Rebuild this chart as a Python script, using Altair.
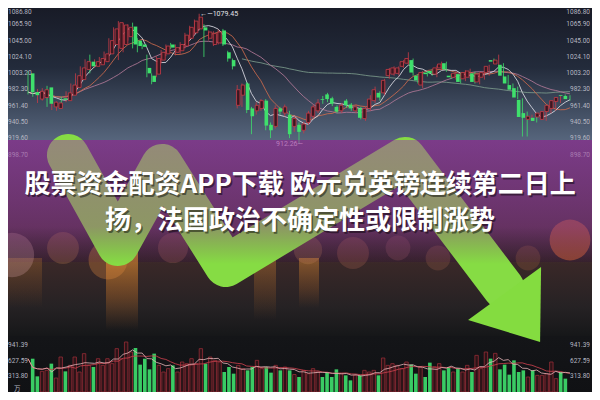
import altair as alt
import pandas as pd

# ---------------- data ----------------
opens = [1003, 979, 970, 972, 985, 960, 958, 971, 968, 975,
         985, 995, 1008, 1018, 1012, 1014, 1018, 1028, 1040, 1035,
         1040, 1050, 1063, 1045, 1040, 1010, 1000, 1002, 1020, 1028,
         1040, 1030, 1032, 1038, 1048, 1055, 1060, 1062, 1048, 1040,
         1042, 1058, 1030, 1020, 962, 975, 990, 958, 955, 958,
         968, 937, 935, 958, 952, 950, 935, 937, 930, 940,
         948, 955, 970, 976, 971, 960, 955, 968, 963, 955,
         958, 945, 958, 968, 978, 978, 1000, 1002, 1003, 1012,
         1016, 1020, 1000, 988, 1004, 1006, 1002, 1010, 1016, 1000,
         998, 1002, 996, 998, 1003, 992, 998, 1004, 1020, 1015,
         1014, 999, 988, 984, 969, 952, 944, 946, 947, 944,
         954, 958, 967, 975, 974]
closes = [979, 975, 980, 982, 964, 966, 965, 969, 978, 988,
          1000, 1010, 1018, 1012, 1018, 1022, 1028, 1045, 1060, 1068,
          1065, 1062, 1040, 1038, 1037, 1003, 992, 1022, 1030, 1038,
          1036, 1036, 1040, 1052, 1062, 1070, 1075, 1058, 1056, 1054,
          1056, 1040, 1022, 1012, 982, 988, 956, 948, 962, 968,
          936, 930, 958, 954, 960, 925, 945, 928, 938, 952,
          960, 965, 969, 970, 964, 954, 962, 962, 958, 960,
          946, 958, 970, 982, 972, 994, 1008, 1010, 1010, 1018,
          1022, 1004, 994, 1004, 1002, 1003, 1010, 1015, 1008, 998,
          1003, 992, 1004, 1006, 992, 1002, 1004, 1012, 1018, 1020,
          1000, 990, 982, 972, 947, 946, 948, 942, 952, 954,
          962, 968, 972, 974, 970]
highs = [1006, 981, 983, 984, 987, 969, 967, 973, 980, 990,
         1003, 1012, 1021, 1027, 1021, 1024, 1031, 1048, 1062, 1070,
         1068, 1066, 1068, 1048, 1042, 1027, 1003, 1025, 1033, 1040,
         1042, 1040, 1043, 1055, 1064, 1072, 1079.45, 1066, 1058, 1057,
         1059, 1060, 1032, 1022, 988, 990, 992, 960, 966, 970,
         970, 940, 962, 960, 963, 955, 948, 940, 941, 955,
         963, 970, 974, 978, 973, 962, 965, 970, 965, 963,
         960, 960, 975, 986, 980, 996, 1010, 1012, 1012, 1020,
         1030, 1022, 1002, 1006, 1006, 1008, 1013, 1018, 1018, 1002,
         1006, 1004, 1007, 1009, 1005, 1004, 1006, 1014, 1022, 1027,
         1016, 1001, 990, 986, 971, 954, 950, 948, 954, 956,
         964, 970, 974, 976, 975]
lows = [976, 973, 965, 968, 960, 956, 955, 962, 966, 973,
        983, 993, 1006, 1003, 1010, 1012, 1016, 1025, 1036, 1020,
        1030, 1045, 1035, 1030, 1034, 998, 989, 998, 1016, 1025,
        1034, 1026, 1028, 1035, 1045, 1052, 1058, 1024, 1045, 1038,
        1040, 1038, 1018, 1008, 958, 960, 952, 925, 950, 955,
        930, 920, 932, 950, 948, 920, 928, 912.26, 926, 937,
        945, 952, 964, 966, 961, 952, 952, 959, 955, 952,
        944, 942, 955, 965, 968, 975, 996, 1000, 1000, 1010,
        1014, 1000, 990, 984, 999, 1000, 998, 1007, 1005, 996,
        995, 990, 993, 996, 990, 989, 995, 1000, 1016, 1012,
        998, 988, 980, 970, 922, 922, 942, 940, 944, 942,
        952, 955, 965, 972, 968]
volumes = [666, 313, 413, 433, 567, 280, 700, 413, 533, 700,
           400, 767, 533, 500, 666, 533, 666, 567, 867, 666,
           1000, 800, 880, 547, 666, 453, 767, 533,
           400, 467, 533, 400, 600, 567, 667, 567, 867, 567,
           700, 633, 600, 400, 500, 367, 533, 467, 433, 500,
           633, 467, 500, 387, 533, 433, 500, 433, 350, 300,
           433, 367, 467, 400, 300, 400, 300, 453, 367, 333,
           233, 333, 333, 433, 400, 433, 333, 680, 533, 567,
           533, 467, 600, 547, 367, 500, 300, 587,
           500, 567, 433, 500, 400, 467, 400, 533, 400, 733,
           467, 800, 667, 773, 453, 547, 347, 633, 400, 433,
           300, 433, 333, 333, 367, 600, 267, 400, 267]

price_ticks = [1086.80, 1065.90, 1045.00, 1024.10, 1003.20, 982.30, 961.40, 940.50, 919.60, 898.70]
vol_ticks = [941.39, 627.59, 313.80]
vol_unit = "万"

title_line1 = "股票资金配资APP下载 欧元兑英镑连续第二日上"
title_line2 = "扬，法国政治不确定性或限制涨势"

# zig-zag arrow of the illustration, in (candle index, price) units
arrow_idx = [8.4, 18.9, 28.2, 41.6, 79.3, 100.0]
arrow_price = [898.3, 782.9, 885.5, 756.0, 894.5, 727.8]
arrowhead_idx = [101.4]
arrowhead_price = [712.4]

# decorative bokeh lights of the background photo (pixel units)
bokeh_x = [4, 55, 100, 165, 240, 300, 345, 390, 430, 520, 562]
bokeh_y = [247, 240, 252, 240, 245, 242, 245, 240, 250, 250, 232]
bokeh_d = [50, 36, 44, 34, 38, 32, 36, 28, 28, 28, 46]
bokeh_c = ["#d8a0a8", "#e0905a", "#e89040", "#d07a70", "#e08a50", "#d89060",
           "#d87a60", "#c87080", "#d08060", "#d08050", "#ee6a3a"]
bokeh_o = [0.28, 0.22, 0.3, 0.2, 0.24, 0.2, 0.2, 0.18, 0.18, 0.18, 0.45]
glow_x0 = [98, 246, 291, 0]
glow_x1 = [130, 268, 311, 34]
glow_y0 = [242, 250, 250, 250]
glow_y1 = [322, 312, 300, 300]
glow_o = [0.7, 0.35, 0.45, 0.25]

# ---------------- tables ----------------
n = len(opens)
df = pd.DataFrame({"idx": list(range(n)), "open": opens, "close": closes,
                   "high": highs, "low": lows, "vol": volumes})
df["dir"] = ["up" if c >= o else "down" for o, c in zip(opens, closes)]
df["top"] = df[["open", "close"]].max(axis=1)
df["bot"] = df[["open", "close"]].min(axis=1)
up = df[df.dir == "up"]
down = df[df.dir == "down"]

W, H = 584, 384
XS = alt.Scale(domain=[-4.21, 118.63], nice=False, zero=False)
PS = alt.Scale(domain=[594.4, 1086.8], nice=False, zero=False)
VS = alt.Scale(domain=[0, 7680], nice=False, zero=False)


def X(f="idx"):
    return alt.X(f"{f}:Q", scale=XS, axis=None)


def PY(f):
    return alt.Y(f"{f}:Q", scale=PS, axis=None)


def VY(f):
    return alt.Y(f"{f}:Q", scale=VS, axis=None)


one = pd.DataFrame({"a": [0]})


def grad(stops):
    return alt.Gradient(gradient="linear", x1=0, x2=0, y1=0, y2=1,
                        stops=[alt.GradientStop(color=c, offset=o) for o, c in stops])


def band(y0, y1, stops):
    return alt.Chart(one).mark_rect(color=grad(stops)).encode(
        x=alt.value(0), x2=alt.value(W), y=alt.value(y0), y2=alt.value(y1))


bg_top = band(0, 132, [(0, "#181b27"), (0.45, "#232b3b"), (1, "#56657c")])
bg_mid = band(132, 254, [(0, "#4e2e66"), (0.5, "#44284e"), (1, "#35202c")])
bg_low = band(254, 328, [(0, "#3a2828"), (0.6, "#262224"), (1, "#161719")])
bg_bot = band(328, 384, [(0, "#141518"), (1, "#101114")])

glow_df = pd.DataFrame({"x0": glow_x0, "x1": glow_x1, "y0": glow_y0, "y1": glow_y1, "o": glow_o})
glows = alt.Chart(glow_df).mark_rect(
    clip=True,
    color=grad([(0, "rgba(236,150,50,0.95)"), (0.6, "rgba(210,120,40,0.45)"), (1, "rgba(200,110,40,0)")])
).encode(x=alt.X("x0:Q", scale=None), x2="x1:Q", y=alt.Y("y0:Q", scale=None), y2="y1:Q",
         opacity=alt.Opacity("o:Q", scale=None, legend=None))

bokeh_df = pd.DataFrame({"x": bokeh_x, "y": bokeh_y,
                         "s": [0.785 * d * d for d in bokeh_d], "c": bokeh_c, "o": bokeh_o})
bokeh = alt.Chart(bokeh_df).mark_circle(clip=True).encode(
    x=alt.X("x:Q", scale=None), y=alt.Y("y:Q", scale=None),
    size=alt.Size("s:Q", scale=None, legend=None),
    color=alt.Color("c:N", scale=None, legend=None),
    opacity=alt.Opacity("o:Q", scale=None, legend=None))

arrow_df = pd.DataFrame({"o": list(range(len(arrow_idx))), "ai": arrow_idx, "ap": arrow_price})
arrow = alt.Chart(arrow_df).mark_line(color="#86dc44", strokeWidth=42, strokeCap="round",
                                      strokeJoin="round").encode(
    x=X("ai"), y=PY("ap"), order="o:Q")
head_df = pd.DataFrame({"hi": arrowhead_idx, "hp": arrowhead_price})
head = alt.Chart(head_df).mark_point(shape="M0.6,0.84L0.62,-0.66L-0.84,0.4Z", filled=True,
                                     size=10000, color="#84dc40", opacity=1).encode(
    x=X("hi"), y=PY("hp"))

# moving averages
mab = alt.Chart(df).transform_window(
    ma5="mean(close)", frame=[-4, 0], sort=[alt.SortField("idx")]
).transform_window(
    ma10="mean(close)", frame=[-9, 0], sort=[alt.SortField("idx")]
).transform_window(
    ma20="mean(close)", frame=[-19, 0], sort=[alt.SortField("idx")]
).transform_window(
    ma60="mean(close)", frame=[-59, 0], sort=[alt.SortField("idx")]
)
ma60 = mab.transform_filter("datum.idx >= 45").mark_line(color="#7fa08e", strokeWidth=1, opacity=0.8).encode(x=X(), y=PY("ma60"))
ma20 = mab.mark_line(color="#b07896", strokeWidth=1, opacity=0.85).encode(x=X(), y=PY("ma20"))
ma10 = mab.mark_line(color="#cc6a4c", strokeWidth=1, opacity=0.85).encode(x=X(), y=PY("ma10"))
ma5 = mab.mark_line(color="#dcdce4", strokeWidth=1, opacity=0.85).encode(x=X(), y=PY("ma5"))

RED = "#c83c48"
GREEN = "#3fe06c"
wick_up = alt.Chart(up).mark_rule(color=RED, strokeWidth=0.8).encode(x=X(), y=PY("low"), y2="high:Q")
wick_dn = alt.Chart(down).mark_rule(color=GREEN, strokeWidth=0.8).encode(x=X(), y=PY("low"), y2="high:Q")
body_up = alt.Chart(up).mark_bar(size=3.4, fill="#3a1822", stroke=RED, strokeWidth=0.8).encode(
    x=X(), y=PY("top"), y2="bot:Q")
body_dn = alt.Chart(down).mark_bar(size=3.6, color=GREEN).encode(x=X(), y=PY("top"), y2="bot:Q")

pl_df = pd.DataFrame({"p": price_ticks, "lab": [f"{v:.2f}" for v in price_ticks]})
pl_top = pl_df.iloc[:1]
pl_rest = pl_df.iloc[1:]


def plabels(d, align, xv, baseline, dy):
    return alt.Chart(d).mark_text(align=align, baseline=baseline, dy=dy, fontSize=6.5, font="Roboto",
                                  color="#b4b6c0").encode(x=alt.value(xv), y=PY("p"), text="lab:N")


plab = [plabels(pl_rest, "left", 0, "middle", 0), plabels(pl_rest, "right", W - 2, "middle", 0),
        plabels(pl_top, "left", 0, "top", 1), plabels(pl_top, "right", W - 2, "top", 1)]

hi_i = int(df.high.idxmax())
lo_i = int(df.low.idxmin())
hi_df = pd.DataFrame({"idx": [hi_i], "p": [df.high[hi_i]], "lab": [f"←—{df.high[hi_i]:.2f}"]})
lo_df = pd.DataFrame({"idx": [lo_i], "p": [df.low[lo_i]], "lab": [f"{df.low[lo_i]:.2f}—"]})
hi_lab = alt.Chart(hi_df).mark_text(align="left", baseline="middle", dx=1, fontSize=7, font="Roboto",
                                    color="#e4e4ea").encode(x=X(), y=PY("p"), text="lab:N")
lo_lab = alt.Chart(lo_df).mark_text(align="right", baseline="middle", dx=4, fontSize=7, font="Roboto",
                                    color="#d8b8d8").encode(x=X(), y=PY("p"), text="lab:N")

overlay = band(132, 256, [(0, "rgba(160,70,165,0.55)"), (0.7, "rgba(150,66,140,0.45)"),
                          (1, "rgba(130,60,110,0)")])

# volume
vb = alt.Chart(df).transform_window(
    v5="mean(vol)", frame=[-4, 0], sort=[alt.SortField("idx")]
).transform_window(
    v10="mean(vol)", frame=[-9, 0], sort=[alt.SortField("idx")]
)
vol_up = alt.Chart(up).mark_bar(size=3.4, fill="#2c1418", stroke="#962c36", strokeWidth=0.8).encode(
    x=X(), y=VY("vol"), y2=alt.Y2(datum=0))
vol_dn = alt.Chart(down).mark_bar(size=3.6, color="#3acb64").encode(
    x=X(), y=VY("vol"), y2=alt.Y2(datum=0))
vma10 = vb.mark_line(color="#c8404c", strokeWidth=1, opacity=0.85).encode(x=X(), y=VY("v10"))
vma5 = vb.mark_line(color="#e6b4b8", strokeWidth=1, opacity=0.8).encode(x=X(), y=VY("v5"))

vl_df = pd.DataFrame({"v": vol_ticks, "lab": [f"{v:.2f}" for v in vol_ticks]})
vlab_l = alt.Chart(vl_df).mark_text(align="left", baseline="middle", fontSize=6.5, font="Roboto",
                                   color="#b4b6c0").encode(x=alt.value(0), y=VY("v"), text="lab:N")
vlab_r = alt.Chart(vl_df).mark_text(align="right", baseline="middle", fontSize=6.5, font="Roboto",
                                   color="#b4b6c0").encode(x=alt.value(W - 2), y=VY("v"), text="lab:N")
unit_df = pd.DataFrame({"v": [0], "lab": [vol_unit]})
vunit = alt.Chart(unit_df).mark_text(align="left", baseline="bottom", fontSize=6.5,
                                     font="Noto Sans CJK SC", color="#b4b6c0").encode(
    x=alt.value(6), y=VY("v"), text="lab:N")

# title
t_df = pd.DataFrame({"t": [title_line1, title_line2], "yy": [177, 213]})
t_shadow = alt.Chart(t_df).mark_text(align="center", baseline="middle", fontSize=26,
                                     font="Noto Sans CJK SC", fontWeight="bold", color="#000000",
                                     opacity=0.45, dx=1.5, dy=1.5).encode(
    x=alt.value(W / 2), y=alt.Y("yy:Q", scale=None), text="t:N")
t_main = alt.Chart(t_df).mark_text(align="center", baseline="middle", fontSize=26,
                                   font="Noto Sans CJK SC", fontWeight="bold", color="#ffffff").encode(
    x=alt.value(W / 2), y=alt.Y("yy:Q", scale=None), text="t:N")

chart = alt.layer(
    bg_top, bg_mid, bg_low, bg_bot, glows, bokeh, arrow, head,
    ma60, ma20, ma10, ma5, wick_up, wick_dn, body_up, body_dn,
    *plab, hi_lab, lo_lab, overlay,
    vol_up, vol_dn, vma10, vma5, vlab_l, vlab_r, vunit,
    t_shadow, t_main
).resolve_scale(x="independent", y="independent").properties(
    width=W, height=H, padding=0, background="#121418",
    autosize=alt.AutoSizeParams(type="none")
).configure_view(stroke=None)

chart.save("out.html", embed_options={"renderer": "svg", "actions": False})
